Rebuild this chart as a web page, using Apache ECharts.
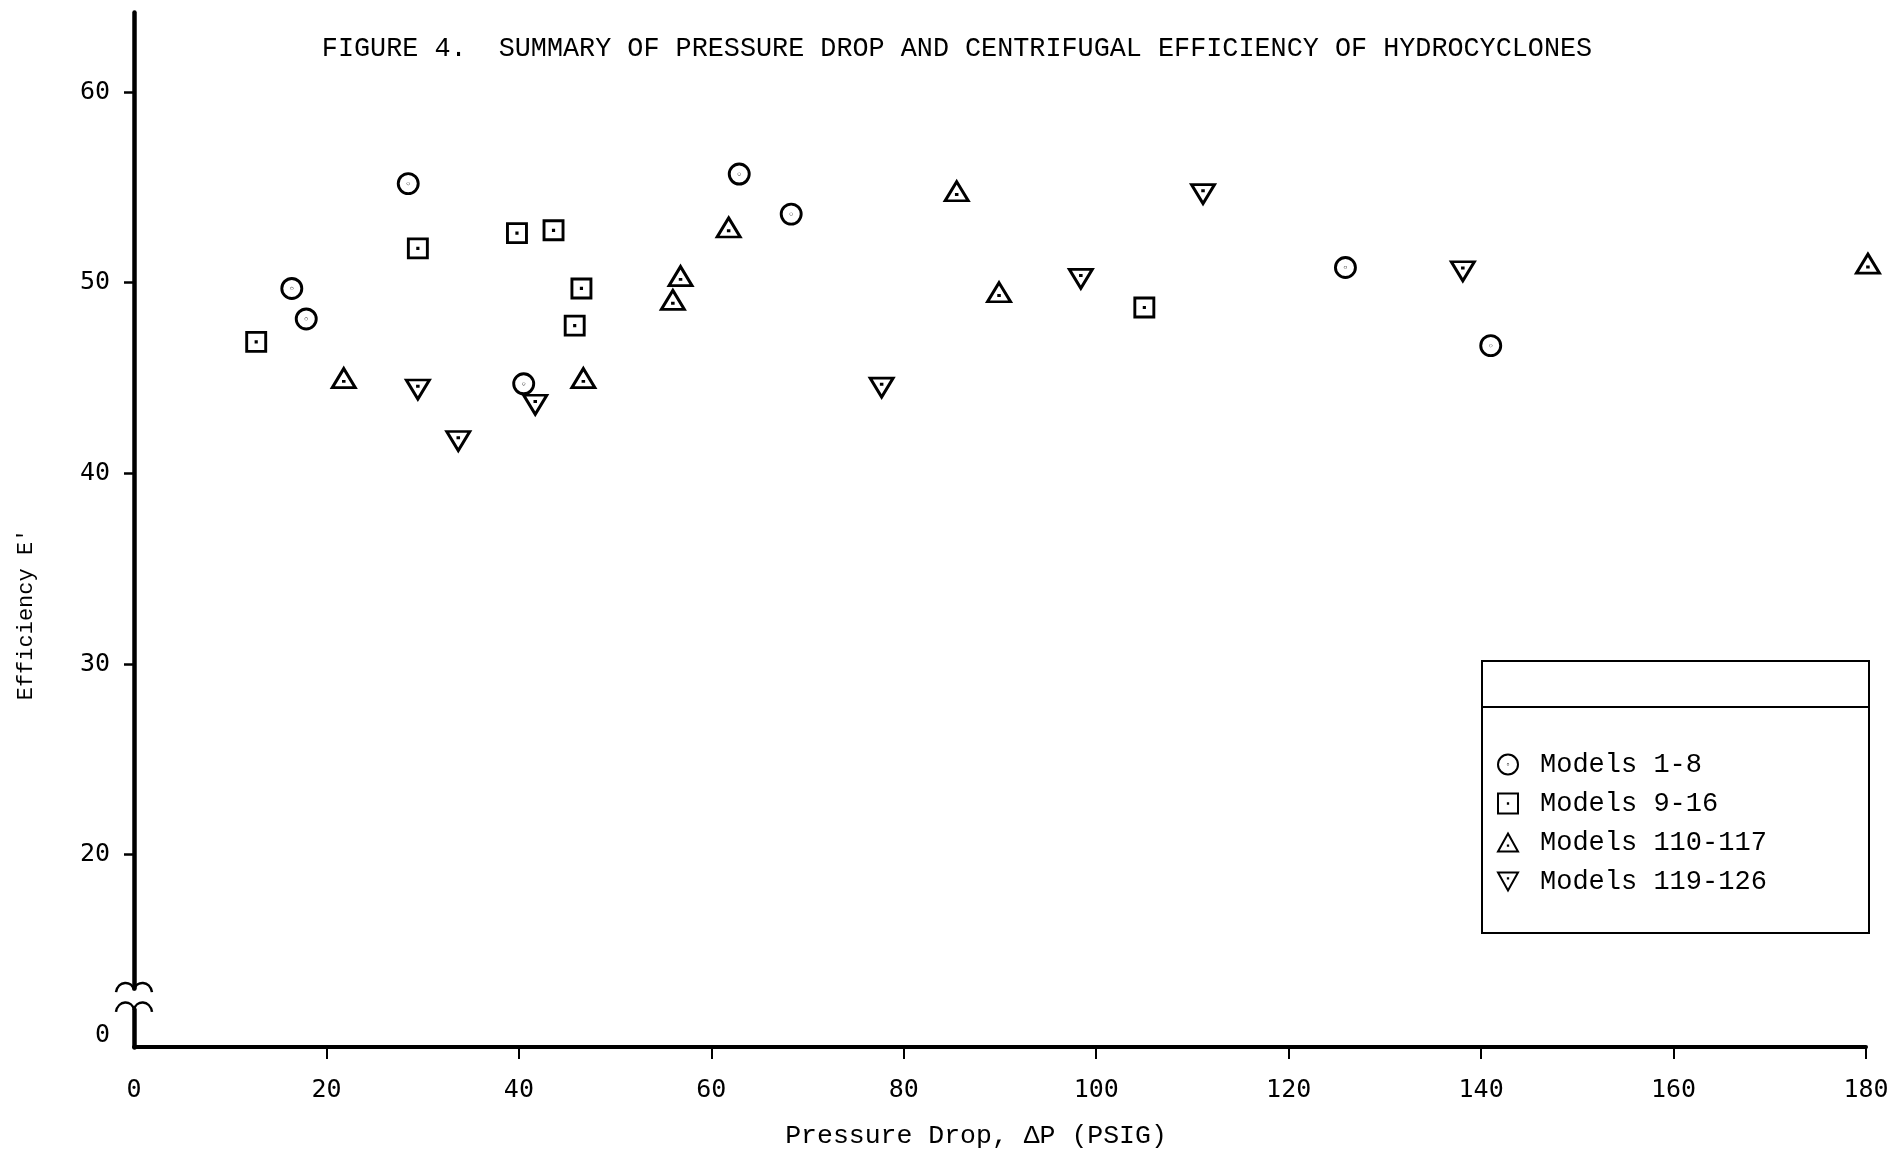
<!DOCTYPE html>
<html><head><meta charset="utf-8">
<script src="https://cdn.jsdelivr.net/npm/echarts@6/dist/echarts.min.js"></script>
<style>html,body{margin:0;padding:0;background:#fff}#c{width:1892px;height:1154px}</style>
</head><body><div id="c"></div>
<script>
const seriesNames = ['Models 1-8', 'Models 9-16', 'Models 110-117', 'Models 119-126'];
const models1to8 = [[16.4,49.7],[17.9,48.1],[28.5,55.2],[40.5,44.7],[62.9,55.7],[68.3,53.6],[125.9,50.8],[141.0,46.7]];
const models9to16 = [[12.7,46.9],[29.5,51.8],[39.8,52.6],[43.6,52.75],[46.5,49.7],[45.8,47.75],[105.0,48.7]];
const models110to117 = [[21.8,45.0],[46.7,45.0],[56.0,49.1],[56.8,50.35],[61.8,52.9],[85.5,54.8],[89.9,49.5],[180.2,51.0]];
const models119to126 = [[29.5,44.4],[33.7,41.7],[41.7,43.6],[77.7,44.5],[98.4,50.2],[111.1,54.65],[138.1,50.6]];
const xTickValues = [20,40,60,80,100,120,140,160,180];
const yLabelValues = [0,20,30,40,50,60];
const yTickValues = [20,30,40,50,60];
const titleText = 'FIGURE 4.  SUMMARY OF PRESSURE DROP AND CENTRIFUGAL EFFICIENCY OF HYDROCYCLONES';

const symCircle = 'path://M0,-10A10,10,0,1,1,0,10A10,10,0,1,1,0,-10ZM0,-0.15A0.15,0.15,0,1,1,0,0.15A0.15,0.15,0,1,1,0,-0.15Z';
const symSquare = 'path://M-10,-10L10,-10L10,10L-10,10ZM-0.15,-0.15L0.15,-0.15L0.15,0.15L-0.15,0.15Z';
const symUp = 'path://M0,-10L10,8L-10,8ZM-0.15,2L0.15,2L0.15,2.3L-0.15,2.3Z';
const symDown = 'path://M-10,-8L10,-8L0,10ZM-0.15,-2.3L0.15,-2.3L0.15,-2L-0.15,-2Z';

const chart = echarts.init(document.getElementById('c'), null, {renderer: 'canvas'});
const itemStyle = {color: '#fff', borderColor: '#000', borderWidth: 2.9, opacity: 1};
function mk(name, data, symbol, size) {
  return {type: 'scatter', name, data, symbol, symbolSize: size, itemStyle, clip: false,
          emphasis: {disabled: true}, animation: false};
}
chart.setOption({
  animation: false,
  backgroundColor: '#fff',
  title: {text: titleText, left: 952, textAlign: 'center', top: 29,
    textStyle: {fontFamily: 'Liberation Mono', fontSize: 26.8, fontWeight: 'normal', color: '#000', lineHeight: 30}},
  grid: {left: 134, right: 26, top: 12, bottom: 107, containLabel: false, outerBoundsMode: 'none'},
  legend: {orient: 'vertical', left: 1492, top: 746, itemWidth: 20, itemHeight: 20, itemGap: 12,
    data: seriesNames, selectedMode: false,
    textStyle: {fontFamily: 'Liberation Mono', fontSize: 27, color: '#000', padding: [0,0,0,17]}},
  xAxis: {type: 'value', min: 0, max: 180, interval: 20,
    axisLine: {onZero: false, lineStyle: {color: '#000', width: 4}},
    axisTick: {length: 12, lineStyle: {color: '#000', width: 2}, customValues: xTickValues},
    axisLabel: {margin: 31, fontFamily: 'DejaVu Sans Mono', fontSize: 25, color: '#000'},
    splitLine: {show: false},
    name: 'Pressure Drop, \u0394P (PSIG)', nameLocation: 'middle', nameGap: 75,
    nameTextStyle: {fontFamily: 'Liberation Mono', fontSize: 26.5, color: '#000', padding: [0,48,0,0]}},
  yAxis: {type: 'value', min: 0, max: 64.2, interval: 10,
    breaks: [{start: 2, end: 13, gap: '2%'}],
    breakArea: {show: false},
    axisLine: {show: true, lineStyle: {color: '#000', width: 4.5}},
    axisTick: {show: true, length: 10, lineStyle: {color: '#000', width: 2.5}, customValues: yTickValues},
    axisLabel: {customValues: yLabelValues, margin: 24, fontFamily: 'DejaVu Sans Mono', fontSize: 25, color: '#000',
      formatter: v => v === 0 ? '{z|0}' : String(v),
      rich: {z: {fontFamily: 'DejaVu Sans Mono', fontSize: 25, color: '#000', padding: [0,0,24,0]}}},
    splitLine: {show: false},
    name: "Efficiency E'", nameLocation: 'middle', nameGap: 97,
    nameTextStyle: {fontFamily: 'Liberation Mono', fontSize: 22, color: '#000', padding: [0,170,0,0]}},
  series: [
    mk(seriesNames[0], models1to8, symCircle, 20),
    mk(seriesNames[1], models9to16, symSquare, 19),
    mk(seriesNames[2], models110to117, symUp, [23, 19]),
    mk(seriesNames[3], models119to126, symDown, [23, 19])
  ]
});

// break marks on the y axis, placed through the axis scale
const x0 = chart.convertToPixel({xAxisIndex: 0}, 0);
const yHi = chart.convertToPixel({yAxisIndex: 0}, 13);
const yLo = chart.convertToPixel({yAxisIndex: 0}, 2);
const braceStyle = {fill: 'none', stroke: '#000', lineWidth: 2.5};
function brace(x, y) {
  return [
    {type: 'bezierCurve', shape: {x1: x-18, y1: y+5, cpx1: x-16, cpy1: y-7, cpx2: x-2, cpy2: y-7, x2: x, y2: y+3}, style: braceStyle, z: 101},
    {type: 'bezierCurve', shape: {x1: x, y1: y+3, cpx1: x+2, cpy1: y-7, cpx2: x+16, cpy2: y-7, x2: x+18, y2: y+5}, style: braceStyle, z: 101}
  ];
}
chart.setOption({graphic: [].concat(
  brace(x0, yHi - 1),
  brace(x0, yLo - 2),
  [
    {type: 'rect', shape: {x: 1482, y: 661, width: 387, height: 272}, style: {fill: 'none', stroke: '#000', lineWidth: 2}, z: 50},
    {type: 'line', shape: {x1: 1482, y1: 707, x2: 1869, y2: 707}, style: {stroke: '#000', lineWidth: 2}, z: 50}
  ]
)});
</script>
</body></html>
